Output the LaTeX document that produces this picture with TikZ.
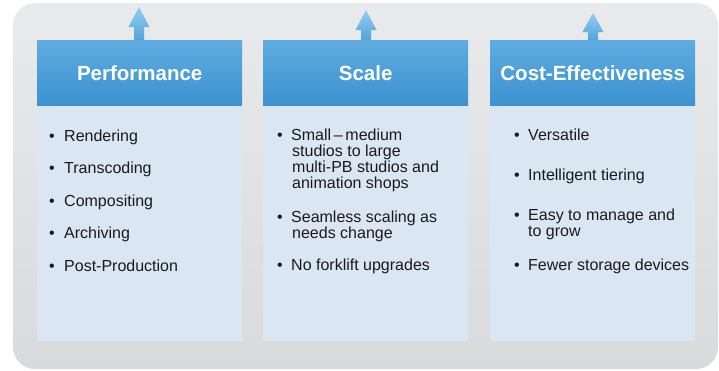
\documentclass[tikz,border=0pt]{standalone}
\usepackage{fontspec}
\setmainfont{Liberation Sans}
\definecolor{bgtop}{HTML}{E9EAEB}
\definecolor{bgbot}{HTML}{D9DADC}
\definecolor{hdtop}{HTML}{5FACE1}
\definecolor{hdbot}{HTML}{3C92D0}
\definecolor{bodyfill}{HTML}{DBE6F3}
\definecolor{artop}{HTML}{92CDF1}
\definecolor{arbot}{HTML}{55A4DC}
\definecolor{txt}{HTML}{1A1A1A}
\tikzset{
  header/.style={anchor=north west, minimum width=205pt, minimum height=65pt,
    inner sep=0pt, top color=hdtop, bottom color=hdbot, text=white,
    font=\bfseries\fontsize{20.5}{24}\selectfont},
  bodybox/.style={anchor=north west, minimum width=205pt, minimum height=236pt,
    inner sep=0pt, fill=bodyfill},
  bul/.style={anchor=base west, inner sep=0pt, text=txt, font=\fontsize{16}{19}\selectfont},
  lineitem/.style={anchor=base west, inner sep=0pt, text=txt, font=\fontsize{16}{19}\selectfont},
  arrowshade/.style={top color=artop, bottom color=arbot}
}
\newcommand{\uparr}[3]{% x, tip y, base y (head base)
  \shade[arrowshade] (#1-5,40) -- (#1-5,#3) -- (#1-10.5,#3) -- (#1,#2) -- (#1+10.5,#3) -- (#1+5,#3) -- (#1+5,40) -- cycle;}
\begin{document}
\begin{tikzpicture}[x=1pt,y=-1pt]
\useasboundingbox (0,0) rectangle (719,370);
\shade[top color=bgtop, bottom color=bgbot, rounded corners=22pt] (13,3) rectangle (718,369);

% arrows
\uparr{139}{7}{27}
\uparr{366}{10}{30}
\uparr{593}{13}{32}

% panels
\node[bodybox] (b1) at (37,105) {};
\node[bodybox] (b2) at (263,105) {};
\node[bodybox] (b3) at (490,105) {};
\node[header] (h1) at (37,40) {Performance};
\node[header] (h2) at (263,40) {Scale};
\node[header] (h3) at (490,40) {Cost-Effectiveness};

% panel 1
\node[bul] (p1a) at (49,141) {•};
\node[lineitem] (t1a) at (64,141) {Rendering};
\node[bul] (p1b) at (49,173.5) {•};
\node[lineitem] (t1b) at (64,173.5) {Transcoding};
\node[bul] (p1c) at (49,206) {•};
\node[lineitem] (t1c) at (64,206) {Compositing};
\node[bul] (p1d) at (49,238.5) {•};
\node[lineitem] (t1d) at (64,238.5) {Archiving};
\node[bul] (p1e) at (49,271) {•};
\node[lineitem] (t1e) at (64,271) {Post-Production};

% panel 2
\node[bul] (p2a) at (277,140) {•};
\node[lineitem] (t2a1) at (291,140) {Small\,–\,medium};
\node[lineitem] (t2a2) at (292,156) {studios to large};
\node[lineitem] (t2a3) at (292,172) {multi-PB studios and};
\node[lineitem] (t2a4) at (292,188) {animation shops};
\node[bul] (p2b) at (277,222) {•};
\node[lineitem] (t2b1) at (291,222) {Seamless scaling as};
\node[lineitem] (t2b2) at (292,238) {needs change};
\node[bul] (p2c) at (277,270) {•};
\node[lineitem] (t2c) at (291,270) {No forklift upgrades};

% panel 3
\node[bul] (p3a) at (514,140) {•};
\node[lineitem] (t3a) at (528,140) {Versatile};
\node[bul] (p3b) at (514,180) {•};
\node[lineitem] (t3b) at (528,180) {Intelligent tiering};
\node[bul] (p3c) at (514,220) {•};
\node[lineitem] (t3c1) at (528,220) {Easy to manage and};
\node[lineitem] (t3c2) at (528,236) {to grow};
\node[bul] (p3d) at (514,270) {•};
\node[lineitem] (t3d) at (528,270) {Fewer storage devices};
\end{tikzpicture}
\end{document}
